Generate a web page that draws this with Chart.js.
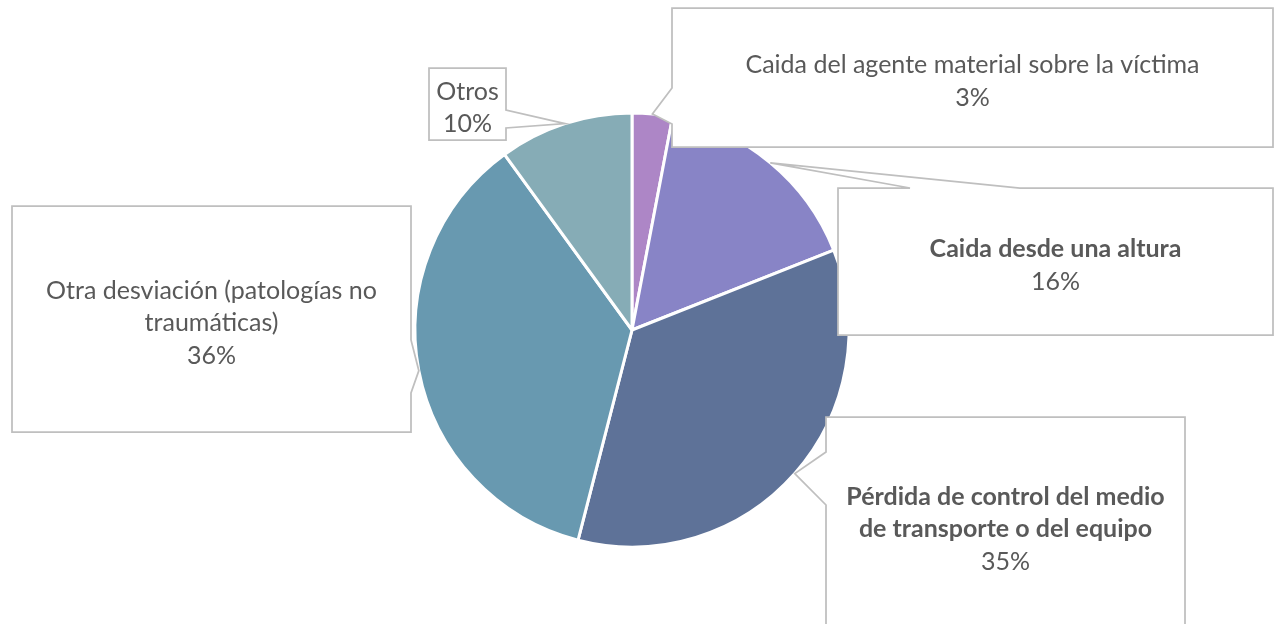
<!DOCTYPE html>
<html>
<head>
<meta charset="utf-8">
<script src="https://cdn.jsdelivr.net/npm/chart.js@4/dist/chart.umd.min.js"></script>
<style>
  html, body { margin: 0; padding: 0; background: #fff; }
  #wrap { width: 1280px; height: 624px; }
</style>
</head>
<body>
<div id="wrap"><canvas id="pieChart" width="1280" height="624"></canvas></div>
<script>
// Datos del gráfico (porcentajes por forma de accidente)
const categories = [
  ['Caida del agente material sobre la víctima'],
  ['Caida desde una altura'],
  ['Pérdida de control del medio', 'de transporte o del equipo'],
  ['Otra desviación (patologías no', 'traumáticas)'],
  ['Otros']
];
const shares = [3, 16, 35, 36, 10];
const sliceColors = ['#ad86c6', '#8884c6', '#5e7298', '#6899b0', '#86acb6'];

// Posición de cada caja de etiqueta (llamada) y base de la flecha
const callouts = [
  { x: 672, y: 8,   w: 601, h: 139, side: 'left',  base: [88, 124],   bold: false },
  { x: 838, y: 188, w: 435, h: 147, side: 'top',   base: [910, 1020], bold: true },
  { x: 826, y: 417, w: 359, h: 216, side: 'left',  base: [452, 505],  bold: true },
  { x: 12,  y: 206, w: 399, h: 226, side: 'right', base: [340, 393],  bold: false },
  { x: 429, y: 68,  w: 77,  h: 72,  side: 'right', base: [110, 128],  bold: false }
];

const FONT = 'Lato, "Open Sans", sans-serif';
const FONT_SIZE = 25;
const LINE_H = 32.5;

const calloutPlugin = {
  id: 'callouts',
  afterDatasetsDraw(chart) {
    const ctx = chart.ctx;
    const meta = chart.getDatasetMeta(0);
    meta.data.forEach((arc, i) => {
      const c = callouts[i];
      if (!c) return;
      const p = arc.getProps(['x', 'y', 'startAngle', 'endAngle', 'outerRadius'], true);
      const mid = (p.startAngle + p.endAngle) / 2;
      const tipX = p.x + Math.cos(mid) * p.outerRadius;
      const tipY = p.y + Math.sin(mid) * p.outerRadius;

      const l = c.x, t = c.y, r = c.x + c.w, b = c.y + c.h;
      ctx.save();
      ctx.beginPath();
      if (c.side === 'left') {
        ctx.moveTo(l, t); ctx.lineTo(r, t); ctx.lineTo(r, b); ctx.lineTo(l, b);
        ctx.lineTo(l, c.base[1]); ctx.lineTo(tipX, tipY); ctx.lineTo(l, c.base[0]);
      } else if (c.side === 'right') {
        ctx.moveTo(l, t); ctx.lineTo(r, t); ctx.lineTo(r, c.base[0]);
        ctx.lineTo(tipX, tipY); ctx.lineTo(r, c.base[1]);
        ctx.lineTo(r, b); ctx.lineTo(l, b);
      } else {
        ctx.moveTo(l, t); ctx.lineTo(c.base[0], t); ctx.lineTo(tipX, tipY);
        ctx.lineTo(c.base[1], t); ctx.lineTo(r, t); ctx.lineTo(r, b); ctx.lineTo(l, b);
      }
      ctx.closePath();
      ctx.fillStyle = '#ffffff';
      ctx.fill();
      ctx.strokeStyle = '#bfbfbf';
      ctx.lineWidth = 1.75;
      ctx.lineJoin = 'miter';
      ctx.stroke();

      // texto
      const lines = chart.data.labels[i].concat([shares[i] + '%']);
      const cx = c.x + c.w / 2;
      const cy = c.y + c.h / 2;
      let y = cy - (lines.length - 1) * LINE_H / 2 + 4;
      ctx.fillStyle = '#595959';
      ctx.textAlign = 'center';
      ctx.textBaseline = 'middle';
      lines.forEach((txt, j) => {
        const isLabel = j < lines.length - 1;
        ctx.font = (isLabel && c.bold ? 'bold ' : '') + FONT_SIZE + 'px ' + FONT;
        ctx.fillText(txt, cx, y);
        y += LINE_H;
      });
      ctx.restore();
    });
  }
};

new Chart(document.getElementById('pieChart').getContext('2d'), {
  type: 'pie',
  data: {
    labels: categories,
    datasets: [{
      data: shares,
      backgroundColor: sliceColors,
      borderColor: '#ffffff',
      borderWidth: 3
    }]
  },
  options: {
    responsive: false,
    animation: false,
    radius: 217,
    layout: { padding: { left: 416, right: 432, top: 114, bottom: 78 } },
    plugins: {
      legend: { display: false },
      tooltip: { enabled: false }
    }
  },
  plugins: [calloutPlugin]
});
</script>
</body>
</html>
